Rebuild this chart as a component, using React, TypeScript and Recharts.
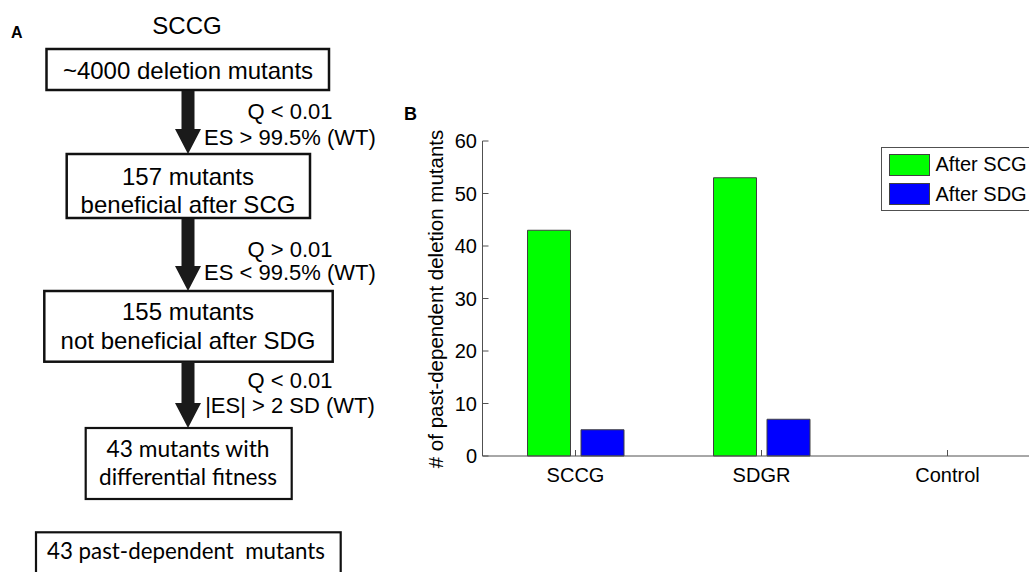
import React from 'react';
import { BarChart, Bar, XAxis, YAxis, Legend } from 'recharts';

const categories = ['SCCG', 'SDGR', 'Control'];
const afterSCG = [43, 53, 0];
const afterSDG = [5, 7, 0];
const yTicks = [0, 10, 20, 30, 40, 50, 60];
const seriesNames = ['After SCG', 'After SDG'];
const seriesColors = ['#00ff00', '#0000ff'];

const data = categories.map((name, i) => ({ name, scg: afterSCG[i], sdg: afterSDG[i] }));

const ARIAL = '"Liberation Sans", Arial, Helvetica, sans-serif';
const CAL = 'Lato, "Open Sans", sans-serif';
const AX = '#505050';

const renderLegend = (props: any) => {
  const payload = props.payload || [];
  return (
    <div style={{ width: 170, height: 64, border: `1px solid ${AX}`, background: '#fff', boxSizing: 'border-box', position: 'relative', fontFamily: ARIAL }}>
      {payload.map((p: any, i: number) => (
        <div key={i} style={{ position: 'absolute', left: 7, top: 5 + i * 29.4, height: 23, display: 'flex', alignItems: 'center' }}>
          <div style={{ width: 41, height: 22, background: p.color, border: '1px solid #404040', boxSizing: 'border-box' }} />
          <span style={{ marginLeft: 6, fontSize: 20, color: '#000', lineHeight: '23px', whiteSpace: 'nowrap' }}>{p.value}</span>
        </div>
      ))}
    </div>
  );
};

const Arrow = ({ cx, y1, y2 }: { cx: number; y1: number; y2: number }) => {
  const s = 6.5, h = 13, L = 25;
  const pts = `${cx - s},${y1} ${cx + s},${y1} ${cx + s},${y2 - L} ${cx + h},${y2 - L} ${cx},${y2} ${cx - h},${y2 - L} ${cx - s},${y2 - L}`;
  return <polygon points={pts} fill="#1a1a1a" />;
};

const Flow = () => {
  const cx = 188;
  const ann = 290;
  const t = { fontFamily: ARIAL, fill: '#000' } as const;
  return (
    <svg width={1029} height={572} style={{ position: 'absolute', left: 0, top: 0 }}>
      <text x={11} y={37.5} fontFamily={ARIAL} fontWeight="bold" fontSize={16}>A</text>
      <text x={187} y={33.5} textAnchor="middle" fontSize={24} {...t}>SCCG</text>

      <rect x={46.5} y={49} width={282.5} height={41} fill="#fff" stroke="#111" strokeWidth={2.5} />
      <text x={cx} y={78.5} textAnchor="middle" fontSize={24} {...t}>~4000 deletion mutants</text>

      <Arrow cx={cx} y1={91} y2={154} />
      <text x={ann} y={119} textAnchor="middle" fontSize={22} {...t}>Q &lt; 0.01</text>
      <text x={ann} y={145} textAnchor="middle" fontSize={22} {...t}>ES &gt; 99.5% (WT)</text>

      <rect x={66.7} y={154} width={243.3} height={64} fill="#fff" stroke="#111" strokeWidth={2.5} />
      <text x={cx} y={185} textAnchor="middle" fontSize={24} {...t}>157 mutants</text>
      <text x={cx} y={213} textAnchor="middle" fontSize={24} {...t}>beneficial after SCG</text>

      <Arrow cx={cx} y1={219} y2={291} />
      <text x={ann} y={257} textAnchor="middle" fontSize={22} {...t}>Q &gt; 0.01</text>
      <text x={ann} y={280} textAnchor="middle" fontSize={22} {...t}>ES &lt; 99.5% (WT)</text>

      <rect x={44.3} y={291} width={288.4} height={70.7} fill="#fff" stroke="#111" strokeWidth={2.5} />
      <text x={cx} y={320} textAnchor="middle" fontSize={24} {...t}>155 mutants</text>
      <text x={cx} y={349} textAnchor="middle" fontSize={24} {...t}>not beneficial after SDG</text>

      <Arrow cx={cx} y1={362.5} y2={428} />
      <text x={ann} y={388} textAnchor="middle" fontSize={22} {...t}>Q &lt; 0.01</text>
      <text x={ann} y={413} textAnchor="middle" fontSize={22} {...t}>|ES| &gt; 2 SD (WT)</text>

      <rect x={85.7} y={428} width={206} height={71} fill="#fff" stroke="#111" strokeWidth={2.2} />
      <text x={cx} y={457} textAnchor="middle" fontSize={24} fontFamily={CAL} textLength={163} lengthAdjust="spacingAndGlyphs">43 mutants with</text>
      <text x={cx} y={485} textAnchor="middle" fontSize={24} fontFamily={CAL} textLength={178} lengthAdjust="spacingAndGlyphs">differential fitness</text>

      <rect x={36} y={532.3} width={304.7} height={60} fill="#fff" stroke="#111" strokeWidth={2.2} />
      <text x={186} y={559} textAnchor="middle" fontSize={24} fontFamily={CAL} textLength={278} lengthAdjust="spacingAndGlyphs" style={{ whiteSpace: 'pre' }}>43 past-dependent  mutants</text>

      <text x={404} y={120} fontFamily={ARIAL} fontWeight="bold" fontSize={18}>B</text>
      <text transform="translate(443,299) rotate(-90)" textAnchor="middle" fontSize={20.5} {...t}># of past-dependent deletion mutants</text>
    </svg>
  );
};

const emptyTick = () => <g />;

export default function App() {
  return (
    <div style={{ position: 'absolute', left: 0, top: 0, width: 1029, height: 572, overflow: 'hidden', background: '#fff' }}>
      <Flow />
      <div style={{ position: 'absolute', left: 400, top: 60 }}>
        <BarChart width={660} height={460} data={data} margin={{ top: 81, right: 19.5, bottom: 34, left: 0 }} barGap={10.5} barSize={43}>
          <XAxis xAxisId="top" orientation="top" dataKey="name" height={0} tickSize={-6} tick={emptyTick} axisLine={{ stroke: AX }} tickLine={{ stroke: AX }} />
          <XAxis dataKey="name" height={30} tickSize={-6} tickMargin={18} axisLine={{ stroke: AX }} tickLine={{ stroke: AX }} tick={{ fill: '#000', fontSize: 20, fontFamily: ARIAL }} interval={0} />
          <YAxis width={82.5} domain={[0, 60]} ticks={yTicks} tickSize={-6} tickMargin={11.5} axisLine={{ stroke: AX }} tickLine={{ stroke: AX }} tick={{ fill: '#000', fontSize: 20, fontFamily: ARIAL }} interval={0} />
          <Legend layout="vertical" align="center" verticalAlign="middle" wrapperStyle={{ position: 'absolute', left: 480.5, top: 87.3, width: 170, height: 64 }} content={renderLegend} />
          <Bar dataKey="scg" name={seriesNames[0]} fill={seriesColors[0]} stroke="#404040" strokeWidth={1} isAnimationActive={false} />
          <Bar dataKey="sdg" name={seriesNames[1]} fill={seriesColors[1]} stroke="#404040" strokeWidth={1} isAnimationActive={false} />
        </BarChart>
      </div>
    </div>
  );
}
